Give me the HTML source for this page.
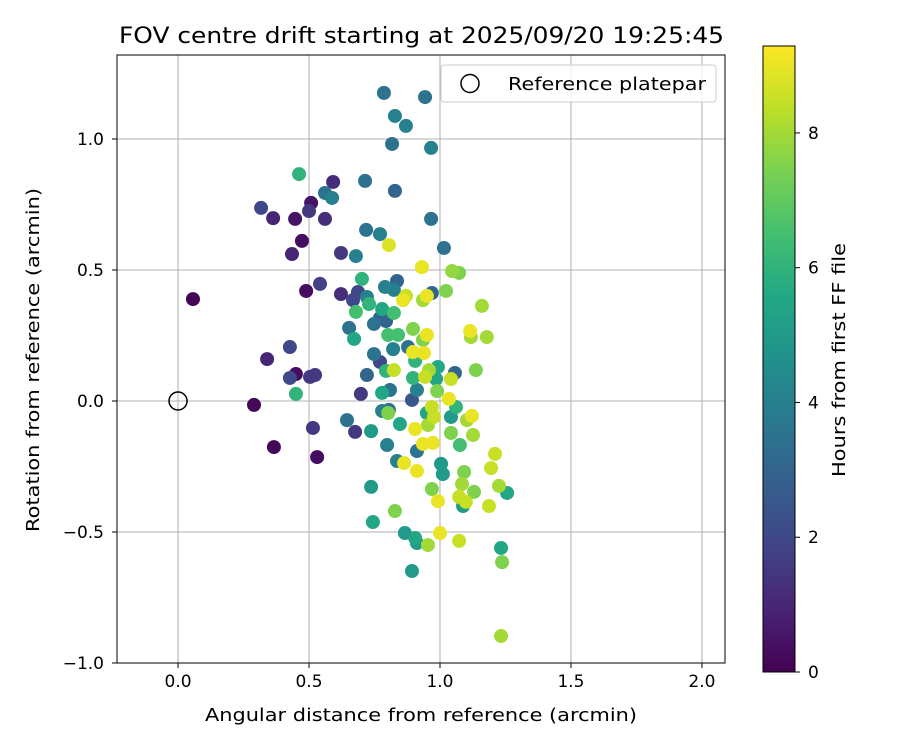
<!DOCTYPE html>
<html><head><meta charset="utf-8"><style>
body{margin:0;background:#fff}
svg text{font-family:"DejaVu Sans","Liberation Sans",sans-serif;fill:#000}
</style></head><body>
<svg id="chart" width="900" height="750" viewBox="0 0 900 750" xmlns="http://www.w3.org/2000/svg">
<defs>
<linearGradient id="vir" x1="0" y1="1" x2="0" y2="0">
<stop offset="0" stop-color="#440154"/><stop offset="0.1" stop-color="#482475"/><stop offset="0.2" stop-color="#414487"/><stop offset="0.3" stop-color="#355f8d"/><stop offset="0.4" stop-color="#2a788e"/><stop offset="0.5" stop-color="#21918c"/><stop offset="0.6" stop-color="#22a884"/><stop offset="0.7" stop-color="#44bf70"/><stop offset="0.8" stop-color="#7ad151"/><stop offset="0.9" stop-color="#bddf26"/><stop offset="1" stop-color="#fde725"/>
</linearGradient>
<clipPath id="pc"><rect x="117" y="55" width="608" height="608"/></clipPath>
</defs>
<text x="119" y="43" font-size="22" textLength="605" lengthAdjust="spacingAndGlyphs">FOV centre drift starting at 2025/09/20 19:25:45</text>
<g id="grid"></g>
<g id="pts" clip-path="url(#pc)"></g>
<rect x="117" y="55" width="608" height="608" fill="none" stroke="#000" stroke-width="1"/>
<g id="ticks"></g>
<text x="205" y="721" font-size="18" textLength="432" lengthAdjust="spacingAndGlyphs">Angular distance from reference (arcmin)</text>
<text transform="translate(39,532) rotate(-90)" font-size="18" textLength="344" lengthAdjust="spacingAndGlyphs">Rotation from reference (arcmin)</text>
<g>
<rect x="441" y="65" width="275" height="37" rx="3" fill="#fff" fill-opacity="0.8" stroke="#ccc"/>
<circle cx="470" cy="83.5" r="9" fill="none" stroke="#000" stroke-width="1.5"/>
<text x="508" y="90" font-size="18" textLength="198" lengthAdjust="spacingAndGlyphs">Reference platepar</text>
</g>
<rect x="763" y="46" width="32" height="626" fill="url(#vir)" stroke="#000" stroke-width="1"/>
<g id="cbticks"></g>
<text transform="translate(845,477) rotate(-90)" font-size="18" textLength="234" lengthAdjust="spacingAndGlyphs">Hours from first FF file</text>
</svg>
<script>
const xTicks=[0,0.5,1.0,1.5,2.0];
const xTickLabels=["0.0","0.5","1.0","1.5","2.0"];
const yTicks=[1.0,0.5,0.0,-0.5,-1.0];
const yTickLabels=["1.0","0.5","0.0","\u22120.5","\u22121.0"];
const cbTicks=[0,2,4,6,8];
const hoursMax=9.29;
const distX=[0.057,0.290,0.366,0.531,0.489,0.473,0.450,0.508,0.447,0.592,0.317,0.363,0.500,0.561,0.435,0.622,0.542,0.622,0.687,0.668,0.427,0.340,0.427,0.504,0.523,0.698,0.515,0.676,0.771,0.893,0.786,0.943,0.828,0.870,0.817,0.966,0.462,0.714,0.828,0.561,0.588,0.966,0.718,0.771,0.805,0.679,1.015,0.931,1.046,1.073,0.702,0.721,0.679,0.729,0.779,0.824,0.836,0.790,0.824,0.870,0.859,0.935,0.950,0.969,1.023,1.160,0.771,0.653,0.672,0.748,0.794,0.802,0.840,0.897,0.950,0.935,1.115,1.118,1.179,0.748,0.821,0.878,0.897,0.939,0.905,0.794,0.824,0.958,0.992,1.057,1.042,1.137,0.721,0.897,0.943,0.985,0.450,0.779,0.809,0.912,0.989,1.034,0.969,1.061,0.779,0.805,0.802,0.950,0.977,0.954,1.042,1.103,1.122,0.645,0.737,0.847,0.905,1.042,1.126,0.798,0.912,0.935,0.973,1.076,1.210,0.836,0.863,1.004,1.011,0.912,1.092,1.195,1.084,1.225,1.256,0.737,0.969,1.130,0.992,1.073,1.099,1.088,1.187,0.828,0.744,0.866,0.905,0.912,0.954,1.000,1.073,1.233,1.237,0.893,1.233];
const rotY=[0.389,-0.015,-0.176,-0.214,0.420,0.611,0.103,0.756,0.695,0.836,0.737,0.698,0.725,0.695,0.561,0.565,0.447,0.408,0.416,0.385,0.206,0.160,0.088,0.092,0.099,0.027,-0.103,-0.118,0.149,0.004,1.176,1.160,1.088,1.050,0.981,0.966,0.866,0.840,0.802,0.794,0.775,0.695,0.653,0.637,0.595,0.553,0.584,0.511,0.496,0.489,0.466,0.397,0.340,0.370,0.351,0.336,0.458,0.435,0.424,0.401,0.385,0.385,0.401,0.412,0.420,0.363,0.317,0.279,0.237,0.294,0.305,0.252,0.252,0.275,0.252,0.233,0.267,0.244,0.244,0.179,0.198,0.206,0.187,0.183,0.153,0.115,0.118,0.118,0.130,0.107,0.084,0.118,0.099,0.088,0.092,0.084,0.027,0.031,0.042,0.042,0.038,0.008,-0.023,-0.023,-0.038,-0.034,-0.046,-0.046,-0.061,-0.092,-0.061,-0.073,-0.057,-0.073,-0.115,-0.088,-0.107,-0.122,-0.130,-0.168,-0.191,-0.164,-0.160,-0.168,-0.202,-0.229,-0.237,-0.240,-0.279,-0.267,-0.271,-0.256,-0.317,-0.324,-0.351,-0.328,-0.336,-0.347,-0.382,-0.366,-0.385,-0.401,-0.401,-0.420,-0.462,-0.504,-0.523,-0.542,-0.550,-0.504,-0.534,-0.561,-0.615,-0.649,-0.897];
const hours=[0.1,0.2,0.2,0.3,0.3,0.3,0.3,0.5,0.5,1.2,2,1,1.5,1.2,1,1.5,1.8,1.2,2,2,2,1,2,1.5,1.5,1.5,1.5,1.5,2,2.5,3.5,3.5,4,4,3.5,4,6,3.5,3,3.5,4,3.5,3.5,4,8.8,4,3.5,9,7.8,7.5,6,4,6.5,6,5.5,6.5,3,4,4,8.5,9,8,9,3,7.5,8,3,3.5,5.5,3.5,3,6.5,6.5,7.5,9,7.5,9,8,8,3.5,4,3.5,9,9,6,6,8.5,8,5.5,3,8.5,7.5,3,6,8.5,5.5,6,5.5,3.5,4,7.5,9,8.5,6,4,3.5,7.5,5.5,8.5,8,5,8,9,3.5,5,5.5,9,7.5,8,4,3.5,9,9,6.5,8.5,4,9,5,5,9,7.5,8.5,8,8,5.5,5,7.5,7.5,9,8.5,8.5,5,8.5,7.5,5.5,5,5.5,5,8,9,8.5,5.5,7.5,5,8];
const refX=[0], refY=[0];

const L=117,R=725,T=55,B=663;
const xMin=-0.233,xMax=2.088,yMin=-1.0,yMax=1.3206;
const sx=v=>L+(v-xMin)/(xMax-xMin)*(R-L);
const sy=v=>B-(v-yMin)/(yMax-yMin)*(B-T);
const NS="http://www.w3.org/2000/svg";
function mk(tag,attrs,parent){const e=document.createElementNS(NS,tag);for(const k in attrs)e.setAttribute(k,attrs[k]);parent.appendChild(e);return e;}
const stops=["#440154","#482475","#414487","#355f8d","#2a788e","#21918c","#22a884","#44bf70","#7ad151","#bddf26","#fde725"];
function hex(c){return [1,3,5].map(i=>parseInt(c.substr(i,2),16));}
function viridis(t){t=Math.max(0,Math.min(1,t));const p=t*10,i=Math.min(9,Math.floor(p)),f=p-i;const a=hex(stops[i]),b=hex(stops[i+1]);return "rgb("+a.map((v,k)=>Math.round(v+(b[k]-v)*f)).join(",")+")";}
const grid=document.getElementById('grid'),ticks=document.getElementById('ticks'),pts=document.getElementById('pts'),cbt=document.getElementById('cbticks');
xTicks.forEach((v,i)=>{const x=sx(v);
 const g=mk('line',{x1:x,x2:x,y1:T,y2:B,stroke:'#b0b0b0','stroke-width':1},grid);
 
 mk('line',{x1:x,x2:x,y1:B,y2:B+5,stroke:'#000'},ticks);
 const t=mk('text',{x:x,y:B+24,'text-anchor':'middle','font-size':17},ticks);t.textContent=xTickLabels[i];
 });
yTicks.forEach((v,i)=>{const y=sy(v);
 const g=mk('line',{x1:L,x2:R,y1:y,y2:y,stroke:'#b0b0b0','stroke-width':1},grid);
 
 mk('line',{x1:L-5,x2:L,y1:y,y2:y,stroke:'#000'},ticks);
 const t=mk('text',{x:L-13,y:y+6,'text-anchor':'end','font-size':17},ticks);t.textContent=yTickLabels[i];
 });
const order=hours.map((h,i)=>i).sort((a,b)=>hours[a]-hours[b]);
order.forEach(i=>{const c=mk('circle',{cx:sx(distX[i]),cy:sy(rotY[i]),r:7,fill:viridis(hours[i]/hoursMax)},pts);
 });
refX.forEach((v,i)=>{const c=mk('circle',{cx:sx(v),cy:sy(refY[i]),r:9,fill:'none',stroke:'#000','stroke-width':1.5},pts);
 });
const cbT=46,cbB=672;
cbTicks.forEach(v=>{const y=cbB-v/hoursMax*(cbB-cbT);
 mk('line',{x1:795,x2:800,y1:y,y2:y,stroke:'#000'},cbt);
 const t=mk('text',{x:808,y:y+6,'font-size':17},cbt);t.textContent=String(v);
 });
</script>
</body></html>
